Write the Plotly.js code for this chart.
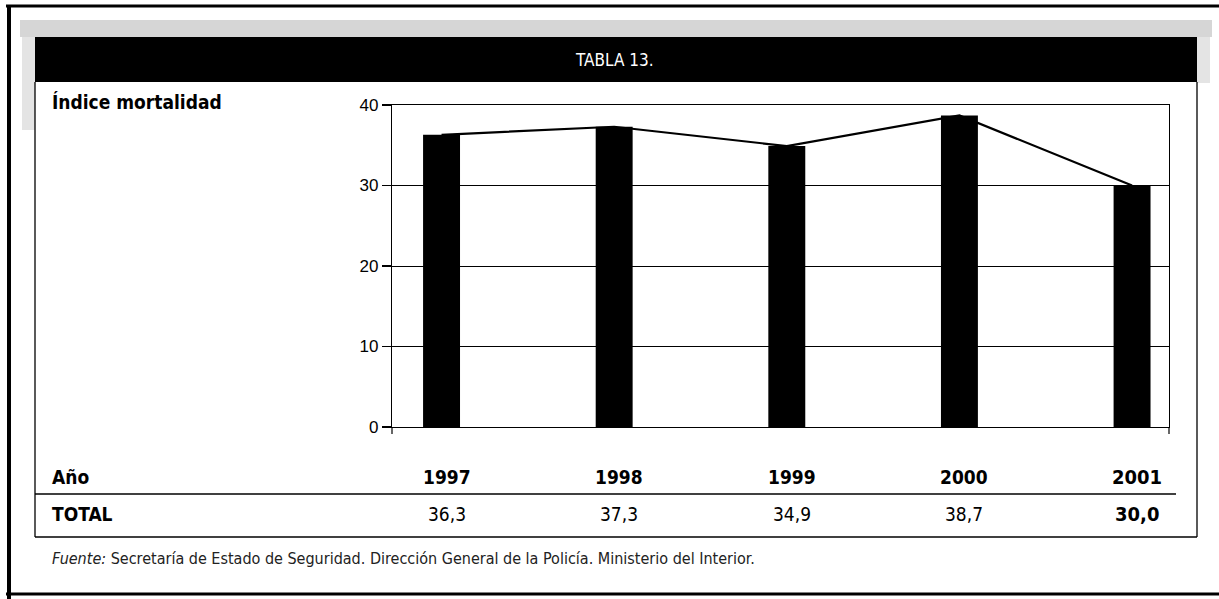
<!DOCTYPE html>
<html><head><meta charset="utf-8">
<script src="https://cdn.plot.ly/plotly-3.0.1.min.js"></script>
<style>html,body{margin:0;padding:0;background:#fff;}#chart{width:1219px;height:599px;}</style>
</head><body><div id="chart"></div>
<script>
const years = ['1997','1998','1999','2000','2001'];
const totals = [36.3, 37.3, 34.9, 38.7, 30.0];
const totalLabels = ['36,3','37,3','34,9','38,7','30,0'];
const title = 'TABLA 13.';
const rowLabelTop = 'Índice mortalidad';
const rowLabelYear = 'Año';
const rowLabelTotal = 'TOTAL';
const source = '<i>Fuente:</i> Secretaría de Estado de Seguridad. Dirección General de la Policía. Ministerio del Interior.';

const W = 1219, H = 599;
const L = 392, R = 1169, T = 105, B = 427;
const px = x => (x - L) / (R - L);
const py = y => (B - y) / (B - T);
const xs = years.map((_, i) => i);

const narrow = '"Liberation Sans Narrow", "DejaVu Sans Condensed", "Arial Narrow", Arial, sans-serif';
const sans = '"Liberation Sans", Arial, sans-serif';

const shapes = [];
function rect(x0,y0,x1,y1,fill){shapes.push({type:'rect',xref:'paper',yref:'paper',x0:px(x0),x1:px(x1),y0:py(y0),y1:py(y1),fillcolor:fill,line:{width:0},layer:'below'});}
function line(x0,y0,x1,y1,w,c){shapes.push({type:'line',xref:'paper',yref:'paper',x0:px(x0),x1:px(x1),y0:py(y0),y1:py(y1),line:{color:c||'#000',width:w||1}});}

// stippled grey frame
rect(20,20,1212,37,'#d6d6d6');
rect(22,37,35,130,'#e4e4e4');
rect(1197,37,1210,83,'#e4e4e4');
// black header
rect(35,37,1197,82,'#000');
// outer border
line(6,6,1219,6,3);
line(9,6,9,599,4);
line(6,594,1219,594,3);
// inner box
line(35,82,35,537,1.3);
line(1197,82,1197,537,1.3);
line(35,537,1197,537,1.3);
// table line
line(35,494,1176,494,1.3);
// axis extensions below zero
line(L,427,L,434,1.2);
line(R,427,R,434,1.2);

const annotations = [];
function txt(text,x,y,size,opts){annotations.push(Object.assign({text:text,xref:'paper',yref:'paper',x:px(x),y:py(y),showarrow:false,font:{family:narrow,size:size,color:'#000'},xanchor:'left',yanchor:'middle'},opts||{}));}
txt(title,614,60,17,{xanchor:'center',font:{family:narrow,size:17,color:'#fff'}});
txt('<b>'+rowLabelTop+'</b>',50,102,19);
txt('<b>'+rowLabelYear+'</b>',50,477,19);
txt('<b>'+rowLabelTotal+'</b>',50,514,19);
txt(source,50,558,16,{font:{family:narrow,size:16,color:'#222'}});
years.forEach((y,i)=>{
  annotations.push({text:'<b>'+y+'</b>',xref:'x',yref:'paper',x:xs[i],xshift:5,y:py(477),showarrow:false,xanchor:'center',yanchor:'middle',font:{family:narrow,size:i===4?20:19,color:'#000'}});
  annotations.push({text:i===4?'<b>'+totalLabels[i]+'</b>':totalLabels[i],xref:'x',yref:'paper',x:xs[i],xshift:5,y:py(514),showarrow:false,xanchor:'center',yanchor:'middle',font:{family:narrow,size:i===4?20:19,color:'#000'}});
});

const data = [
  {type:'bar',x:xs,y:totals,width:0.214,marker:{color:'#000',line:{width:0}},hoverinfo:'skip',showlegend:false},
  {type:'scatter',mode:'lines',x:xs,y:totals,line:{color:'#000',width:2.2},hoverinfo:'skip',showlegend:false}
];

const layout = {
  width:W,height:H,
  margin:{l:L,r:W-R,t:T,b:H-B},
  paper_bgcolor:'#fff',plot_bgcolor:'#fff',
  showlegend:false,
  xaxis:{range:[-0.287,4.214],showticklabels:false,ticks:'',showgrid:false,zeroline:false,showline:true,linecolor:'#000',linewidth:1.2,mirror:true,fixedrange:true},
  yaxis:{range:[0,40],tickvals:[0,10,20,30,40],ticks:'outside',ticklen:9,tickwidth:1.2,tickcolor:'#000',showgrid:true,gridcolor:'#000',gridwidth:1,zeroline:false,showline:true,linecolor:'#000',linewidth:1.2,mirror:true,tickfont:{family:sans,size:17,color:'#000'},fixedrange:true},
  shapes:shapes,
  annotations:annotations
};
Plotly.newPlot('chart',data,layout,{displayModeBar:false,staticPlot:true});
</script></body></html>
